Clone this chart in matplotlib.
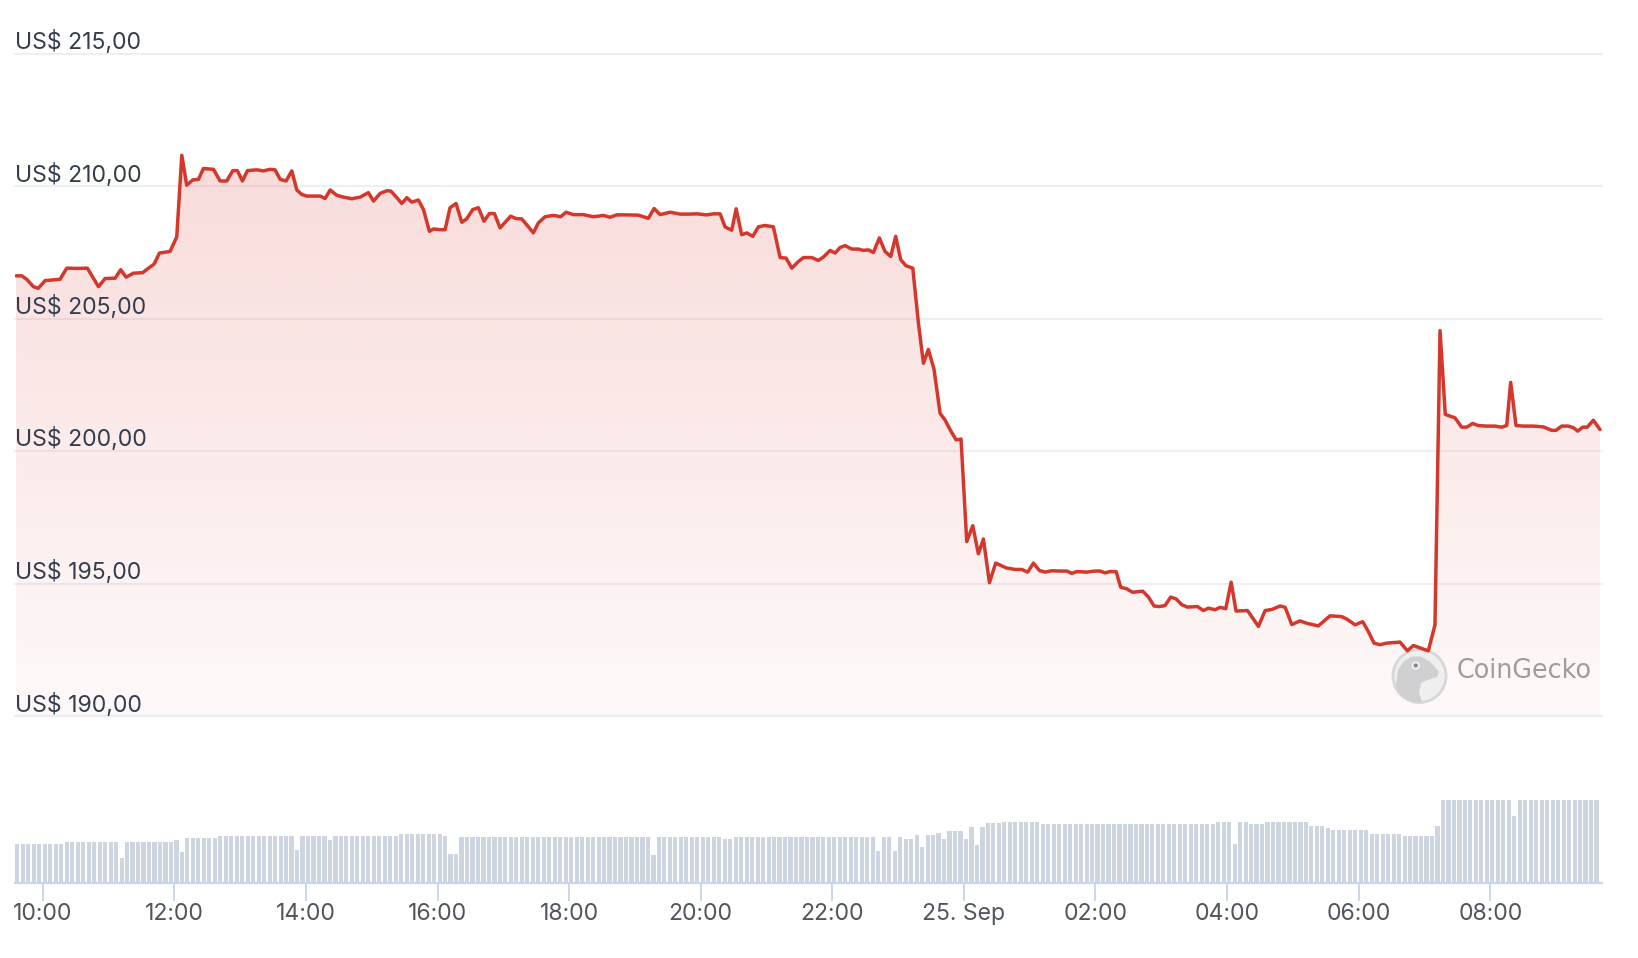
import numpy as np
import matplotlib
matplotlib.use("Agg")
import matplotlib.pyplot as plt
from matplotlib.patches import PathPatch, Circle, Polygon
from matplotlib import transforms

plt.rcParams['font.family'] = ['Inter', 'DejaVu Sans']

# ---------------- data ----------------
# price samples: minutes since 24 Sep 00:00 (local), price in USD
price_time = [
    575.7, 580.9, 585.4, 591.5, 596.0, 602.1, 609.7, 615.8, 621.9, 631.0,
    640.7, 646.2, 650.8, 656.9, 666.0, 671.1, 676.0, 682.7, 691.2, 696.4,
    701.5, 706.4, 716.1, 722.2, 726.8, 731.3, 736.8, 742.0, 746.5, 755.7,
    761.7, 767.8, 773.3, 777.5, 782.1, 786.7, 795.2, 801.3, 807.3, 811.9,
    816.5, 821.9, 827.1, 831.7, 836.2, 840.8, 852.9, 857.5, 862.1, 868.1,
    874.2, 881.8, 889.4, 897.0, 901.6, 907.7, 913.7, 917.4, 922.9, 927.4,
    932.0, 936.5, 942.6, 947.2, 952.6, 956.3, 962.4,
    966.9, 971.4, 976.9, 982.1, 986.6, 992.1, 997.3, 1002.4, 1007.3, 1011.9,
    1017.0, 1021.6, 1026.7, 1031.6, 1036.8, 1041.9, 1047.4, 1052.0, 1058.1, 1065.7,
    1072.3, 1077.2, 1083.9, 1093.0, 1102.1, 1111.3, 1117.3, 1123.4, 1132.5, 1143.2,
    1152.3, 1157.5, 1163.0, 1172.1, 1181.2, 1190.3, 1196.4, 1205.5, 1211.6, 1217.7,
    1222.2, 1228.3, 1232.3, 1237.4, 1242.0, 1247.5, 1252.6, 1258.7, 1266.3, 1272.4,
    1277.9, 1283.0, 1289.1, 1293.7, 1301.3, 1307.3, 1311.9, 1318.0, 1322.5, 1327.1,
    1331.7, 1337.7, 1343.8, 1348.3, 1352.9, 1357.5, 1362.9, 1368.1, 1373.3, 1377.8,
    1382.4, 1387.2, 1393.4,
    1398.5, 1403.1, 1407.6, 1412.8, 1418.3, 1422.8, 1428.0, 1432.9, 1437.4, 1442.6,
    1448.1, 1453.2, 1457.8, 1463.3, 1469.0, 1478.5, 1486.7, 1492.8, 1498.2, 1503.4,
    1508.9, 1514.0, 1520.1, 1527.7, 1533.8, 1538.4, 1542.9, 1552.0, 1559.6, 1564.2,
    1568.8, 1573.3, 1578.8, 1583.0, 1588.5, 1593.7, 1603.1, 1608.3, 1613.4, 1618.3,
    1623.5, 1628.6, 1633.5, 1638.7, 1643.8, 1653.0, 1658.4, 1663.0, 1669.1, 1673.6,
    1678.8, 1683.7, 1688.2, 1698.6, 1708.6, 1714.7, 1720.8, 1728.4, 1733.0, 1739.0,
    1746.5, 1752.6, 1763.2, 1773.9, 1784.5, 1789.1, 1796.7, 1803.7, 1808.8, 1814.0,
    1819.5, 1825.5, 1837.7, 1844.4, 1849.9, 1856.5, 1863.5, 1869.6, 1874.2, 1879.0,
    1887.9, 1893.9, 1898.5, 1904.0, 1909.1, 1916.7, 1924.3, 1930.4, 1935.0, 1938.6,
    1943.5, 1950.2, 1959.3, 1968.4, 1976.0, 1980.0, 1985.1, 1991.2, 1995.8, 1999.7,
    2004.3, 2008.5, 2014.0, 2020.1,
]
price_usd = [
    206.61, 206.61, 206.48, 206.20, 206.14, 206.43, 206.46, 206.48, 206.90, 206.89,
    206.90, 206.52, 206.20, 206.51, 206.52, 206.84, 206.56, 206.71, 206.73, 206.90,
    207.05, 207.47, 207.53, 208.08, 211.16, 210.03, 210.23, 210.25, 210.66, 210.63,
    210.19, 210.19, 210.58, 210.58, 210.19, 210.58, 210.61, 210.57, 210.63, 210.61,
    210.25, 210.19, 210.57, 209.85, 209.68, 209.62, 209.62, 209.53, 209.85, 209.65,
    209.58, 209.52, 209.58, 209.75, 209.43, 209.72, 209.82, 209.81, 209.56, 209.34,
    209.56, 209.39, 209.47, 209.11, 208.29, 208.38, 208.35,
    208.35, 209.18, 209.34, 208.63, 208.76, 209.11, 209.18, 208.67, 208.96, 208.96,
    208.42, 208.63, 208.86, 208.77, 208.76, 208.51, 208.23, 208.61, 208.84, 208.89,
    208.84, 209.01, 208.92, 208.92, 208.84, 208.89, 208.82, 208.91, 208.91, 208.90,
    208.78, 209.15, 208.92, 209.01, 208.94, 208.94, 208.95, 208.91, 208.95, 208.95,
    208.46, 208.33, 209.14, 208.16, 208.23, 208.10, 208.46, 208.51, 208.46, 207.30,
    207.28, 206.90, 207.15, 207.30, 207.30, 207.19, 207.32, 207.57, 207.47, 207.68,
    207.75, 207.62, 207.62, 207.57, 207.59, 207.49, 208.04, 207.53, 207.34, 208.10,
    207.22, 206.99, 206.90,
    204.84, 203.31, 203.83, 203.08, 201.42, 201.17, 200.76, 200.42, 200.45, 196.58,
    197.18, 196.12, 196.68, 195.03, 195.77, 195.59, 195.53, 195.53, 195.43, 195.77,
    195.49, 195.43, 195.48, 195.47, 195.47, 195.38, 195.45, 195.43, 195.47, 195.47,
    195.40, 195.45, 195.45, 194.86, 194.80, 194.67, 194.71, 194.49, 194.15, 194.13,
    194.17, 194.49, 194.42, 194.20, 194.11, 194.13, 193.98, 194.07, 194.01, 194.10,
    194.05, 195.05, 193.96, 193.98, 193.38, 193.98, 194.02, 194.15, 194.10, 193.45,
    193.59, 193.50, 193.40, 193.78, 193.75, 193.66, 193.44, 193.56, 193.19, 192.75,
    192.69, 192.75, 192.79, 192.46, 192.66, 192.56, 192.46, 193.44, 204.54, 201.38,
    201.25, 200.90, 200.90, 201.04, 200.96, 200.94, 200.94, 200.90, 200.96, 202.59,
    200.96, 200.94, 200.94, 200.91, 200.78, 200.78, 200.94, 200.94, 200.88, 200.75,
    200.90, 200.90, 201.16, 200.81,
]

# volume bars: one per 5 minutes starting 09:35 (arbitrary units, no axis labels)
vol_start_min = 575
vol_step_min = 5
volume = [
    38.7, 38.7, 38.7, 38.7, 38.7, 38.7, 38.7, 38.7, 38.7, 40.7,
    40.7, 40.7, 40.7, 40.7, 40.7, 40.7, 40.7, 40.7, 40.7, 24.7,
    40.7, 40.7, 40.7, 40.7, 40.7, 40.7, 40.7, 40.7, 40.7, 42.7,
    30.7, 44.7, 44.7, 44.7, 44.7, 44.7, 44.7, 46.7, 46.7, 46.7,
    46.7, 46.7, 46.7, 46.7, 46.7, 46.7, 46.7, 46.7, 46.7, 46.7,
    46.7, 32.7, 46.7, 46.7, 46.7, 46.7, 46.7, 42.7, 46.7, 46.7,
    46.7, 46.7, 46.7, 46.7, 46.7, 46.7, 46.7, 46.7, 46.7, 46.7,
    48.7, 48.7, 48.7, 48.7, 48.7, 48.7, 48.7, 48.7, 46.7, 28.7,
    28.7, 46.5, 46.5, 46.5, 46.5, 46.5, 46.5, 46.5, 46.5, 46.5,
    46.5, 46.5, 46.5, 46.5, 46.5, 46.5, 46.5, 46.5, 46.5, 46.5,
    46.5, 46.5, 46.5, 46.5, 46.5, 46.5, 46.5, 46.5, 46.5, 46.5,
    46.5, 46.5, 46.5, 46.5, 46.5, 46.5, 28.3, 46.3, 46.3, 46.3,
    46.3, 46.3, 46.3, 46.3, 46.3, 46.3, 46.3, 46.3, 46.3, 44.3,
    44.3, 46.3, 46.3, 46.3, 46.3, 46.3, 46.3, 46.3, 46.3, 46.3,
    46.3, 46.3, 46.3, 46.3, 46.3, 46.3, 46.3, 46.3, 46.3, 46.3,
    46.3, 46.3, 46.3, 46.3, 46.3, 46.3, 46.3, 32.3, 46.3, 46.3,
    32.3, 46.3, 44.3, 44.3, 48.3, 36.3, 48.3, 48.3, 50.3, 44.3,
    52.3, 52.3, 52.3, 44.3, 56.3, 38.3, 56.3, 60.3, 60.3, 60.3,
    61.0, 61.0, 61.0, 61.0, 61.0, 61.0, 61.0, 59.1, 59.1, 59.1,
    59.1, 59.1, 59.1, 59.1, 59.1, 59.1, 59.1, 59.1, 59.1, 59.1,
    59.1, 59.1, 59.1, 59.1, 59.1, 59.1, 59.1, 59.1, 59.1, 59.1,
    59.1, 59.1, 59.1, 59.1, 59.1, 59.1, 59.1, 59.1, 59.1, 61.0,
    61.0, 61.0, 38.9, 61.0, 61.0, 59.1, 59.1, 59.1, 61.0, 61.0,
    61.0, 61.0, 61.0, 61.0, 61.0, 61.0, 57.0, 57.0, 57.0, 55.1,
    53.0, 53.0, 53.0, 53.0, 53.0, 53.0, 53.0, 49.0, 49.0, 49.0,
    49.0, 49.0, 49.0, 47.0, 47.0, 47.0, 47.0, 47.0, 47.0, 57.0,
    83.3, 83.3, 83.3, 83.3, 83.3, 83.3, 83.3, 83.3, 83.3, 83.3,
    83.3, 83.3, 83.3, 67.1, 83.3, 83.3, 83.3, 83.3, 83.3, 83.3,
    83.3, 83.3, 83.3, 83.3, 83.3, 83.3, 83.3, 83.3, 83.3,
]

y_ticks = [190, 195, 200, 205, 210, 215]
y_tick_labels = ["US$ 190,00", "US$ 195,00", "US$ 200,00",
                 "US$ 205,00", "US$ 210,00", "US$ 215,00"]
x_tick_min = [600, 720, 840, 960, 1080, 1200, 1320, 1440, 1560, 1680, 1800, 1920]
x_tick_labels = ["10:00", "12:00", "14:00", "16:00", "18:00", "20:00", "22:00",
                 "25. Sep", "02:00", "04:00", "06:00", "08:00"]

# ---------------- style ----------------
W, H = 1638, 958
LINE = "#d4372c"
GRID = "#eeeff3"
BAR = "#cdd5e1"
AXIS = "#ccd6eb"
YTXT = "#343d4f"
XTXT = "#50555e"
FS = 16.6

fig = plt.figure(figsize=(W / 100, H / 100), dpi=100)
fig.patch.set_facecolor("white")

x_lo, x_hi = 574.7, 2021.9

axp = fig.add_axes([15 / W, 1 - 716 / H, 1587 / W, (716 - 53.5) / H])
axv = fig.add_axes([15 / W, 1 - 883 / H, 1587 / W, 144 / H])
axw = fig.add_axes([0, 0, 1, 1])
axw.set_xlim(0, W)
axw.set_ylim(H, 0)
axw.set_visible(False)

# ----- price panel -----
axp.set_xlim(x_lo, x_hi)
axp.set_ylim(min(y_ticks), max(y_ticks))
axp.axis("off")

for v in y_ticks:
    axp.axhline(v, color=GRID, lw=1.5, zorder=0.5, clip_on=False)

# gradient area fill
fill = axp.fill_between(price_time, price_usd, min(y_ticks), facecolor="none",
                        edgecolor="none")
clip = PathPatch(fill.get_paths()[0], transform=axp.transData,
                 facecolor="none", edgecolor="none")
axp.add_patch(clip)
n = 256
alpha = np.linspace(0.21, 0.03, n)[:, None]
grad = np.zeros((n, 1, 4))
grad[..., 0] = 218 / 255
grad[..., 1] = 62 / 255
grad[..., 2] = 52 / 255
grad[..., 3] = alpha
im = axp.imshow(grad, extent=[x_lo, x_hi, min(y_ticks), max(y_ticks)],
                aspect="auto", origin="upper", zorder=1, interpolation="bilinear")
im.set_clip_path(clip)

# watermark (CoinGecko logo + wordmark)
wm = axw.transData
ring = Circle((1419.5, 676.0), 26.5, transform=wm, facecolor="#efefef",
              edgecolor="#d6d6d6", lw=2.0, zorder=2, clip_on=False, alpha=0.95)
axp.add_patch(ring)
head = Polygon([(1399, 705), (1396, 684), (1398, 670), (1404, 661), (1412, 656.5),
                (1421, 656.5), (1429, 661), (1435, 667), (1439, 672), (1437, 677),
                (1429, 679.5), (1421, 683), (1419, 692), (1423, 705)],
               closed=True, transform=wm, facecolor="#cfcfd2", edgecolor="none",
               zorder=2.1, clip_on=True, alpha=0.95)
axp.add_patch(head)
head.set_clip_path(ring)
axp.add_patch(Circle((1415.7, 665.5), 4.2, transform=wm, facecolor="#f2f2f2",
                     edgecolor="none", zorder=2.2, clip_on=False))
axp.add_patch(Circle((1415.7, 665.5), 2.2, transform=wm, facecolor="#8a8a8a",
                     edgecolor="none", zorder=2.3, clip_on=False))
axp.text(1456.5, 671, "CoinGecko", transform=wm, ha="left", va="center",
         fontsize=18.4, color="#9d9d9d", family="DejaVu Sans", zorder=2.4)

axp.plot(price_time, price_usd, color=LINE, lw=2.5, solid_joinstyle="round",
         solid_capstyle="round", zorder=3)

for v, lab in zip(y_ticks, y_tick_labels):
    tr = transforms.blended_transform_factory(axp.transAxes, axp.transData)
    tr = tr + transforms.ScaledTranslation(0, 4.5 / 100, fig.dpi_scale_trans)
    axp.text(0, v, lab, transform=tr, ha="left", va="baseline",
             fontsize=FS, color=YTXT, zorder=4, clip_on=False)

# ----- volume panel -----
bar_time = vol_start_min + vol_step_min * np.arange(len(volume))
axv.bar(bar_time, volume, width=3.8, align="edge", color=BAR, lw=0)
axv.set_xlim(x_lo, x_hi)
axv.set_ylim(0, 144)
for s in ("top", "left", "right"):
    axv.spines[s].set_visible(False)
axv.spines["bottom"].set_color(AXIS)
axv.spines["bottom"].set_linewidth(1.6)
axv.set_yticks([])
axv.set_xticks(x_tick_min)
axv.set_xticklabels(x_tick_labels)
axv.tick_params(axis="x", length=13, width=1.4, color=AXIS, pad=1.5,
                labelsize=FS, labelcolor=XTXT)
axv.patch.set_alpha(0)

fig.savefig("out.png", dpi=100, facecolor="white")
